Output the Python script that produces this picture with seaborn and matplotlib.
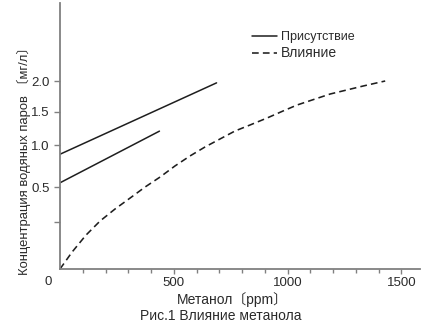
import numpy as np
import pandas as pd
import matplotlib
matplotlib.use("Agg")
import matplotlib.pyplot as plt
import seaborn as sns

# ---- data ----
upper_x = [0, 688]
upper_y = [0.89, 1.97]
lower_x = [0, 437]
lower_y = [0.55, 1.21]
dash_x = [0, 53, 114, 176, 242, 308, 374, 440, 505, 571, 637, 703, 769, 835,
          910, 980, 1042, 1187, 1332, 1429]
dash_y = [0.0, 0.09, 0.18, 0.257, 0.343, 0.421, 0.50, 0.619, 0.75, 0.869, 0.976,
          1.091, 1.212, 1.303, 1.409, 1.516, 1.613, 1.79, 1.919, 2.0]
legend_labels = ["Присутствие", "Влияние"]
x_ticks = [500, 1000, 1500]
y_ticks = [0.25, 0.5, 1.0, 1.5, 2.0]
y_tick_labels = ["", "0.5", "1.0", "1.5", "2.0"]
x_label = "Метанол〔ppm〕"
y_label = "Концентрация водяных паров 〔мг/л〕"
caption = "Рис.1 Влияние метанола"

sns.set_theme(style="white")
plt.rcParams["font.family"] = ["Liberation Sans", "Noto Sans CJK JP", "DejaVu Sans"]

TXT = "#2a2a2a"
LINE = "#1e1e1e"
SPINE = "#808080"

# non-uniform vertical scale of the original drawing
scale_vals = [0.0, 0.25, 0.5, 1.0, 1.5, 2.0, 3.25]
scale_pos = [0.0, 47.0, 82.0, 124.0, 157.0, 188.0, 266.0]

def fwd(v):
    return np.interp(v, scale_vals, scale_pos, left=-1e3, right=1e3)

def inv(p):
    return np.interp(p, scale_pos, scale_vals)

fig = plt.figure(figsize=(4.24, 3.27), dpi=100)
ax = fig.add_axes([60 / 424, (327 - 269) / 327, 360 / 424, 266 / 327])
ax.set_yscale("function", functions=(fwd, inv))

df_u = pd.DataFrame({"x": upper_x, "y": upper_y})
df_l = pd.DataFrame({"x": lower_x, "y": lower_y})
df_d = pd.DataFrame({"x": dash_x, "y": dash_y})

sns.lineplot(data=df_u, x="x", y="y", ax=ax, color=LINE, lw=1.1, label=legend_labels[0])
sns.lineplot(data=df_l, x="x", y="y", ax=ax, color=LINE, lw=1.1)
sns.lineplot(data=df_d, x="x", y="y", ax=ax, color=LINE, lw=1.15, dashes=False,
             label=legend_labels[1])
ax.lines[-1].set_dashes([4.2, 2.6])

ax.set_xlim(0, 1582)
ax.set_ylim(0, 3.25)

for s in ["top", "right"]:
    ax.spines[s].set_visible(False)
for s in ["left", "bottom"]:
    ax.spines[s].set_color(SPINE)
    ax.spines[s].set_linewidth(1.3)

ax.set_xticks(x_ticks)
ax.set_xticks(np.arange(100, 1582, 100), minor=True)
ax.set_yticks(y_ticks)
ax.set_yticklabels(y_tick_labels)
ax.yaxis.set_minor_locator(matplotlib.ticker.NullLocator())
ax.tick_params(axis="x", which="both", direction="out", length=3.5, width=1, color=SPINE,
               pad=2, labelsize=9.5, labelcolor=TXT, bottom=True)
ax.tick_params(axis="x", which="minor", length=3)
ax.tick_params(axis="y", direction="out", length=4.5, width=1, color=SPINE,
               pad=3, labelsize=9.5, labelcolor=TXT, left=True)

ax.text(-12 / 360, -13 / 266, "0", transform=ax.transAxes, ha="center", va="center",
        fontsize=9.5, color=TXT)

ax.set_xlabel(x_label, fontsize=10, color=TXT)
ax.xaxis.set_label_coords((232 - 60) / 360, (269 - 300) / 266)
ax.xaxis.label.set_va("center")
ax.set_ylabel("")
fig.text(24 / 424, 1 - 158 / 327, y_label, rotation=90, ha="center", va="center",
         fontsize=9.4, color=TXT)
ax.text((221 - 60) / 360, (269 - 316) / 266, caption, transform=ax.transAxes,
        ha="center", va="center", fontsize=10, color=TXT)

leg = ax.legend(loc="upper left", bbox_to_anchor=(252 / 424, (327 - 31) / 327),
                bbox_transform=fig.transFigure, frameon=False, fontsize=9,
                handlelength=2.0, handletextpad=0.35, labelspacing=0.25, borderpad=0,
                borderaxespad=0)
for t in leg.get_texts():
    t.set_color(TXT)
leg.get_texts()[1].set_fontsize(10)

fig.savefig("out.png", dpi=100, facecolor="white")
